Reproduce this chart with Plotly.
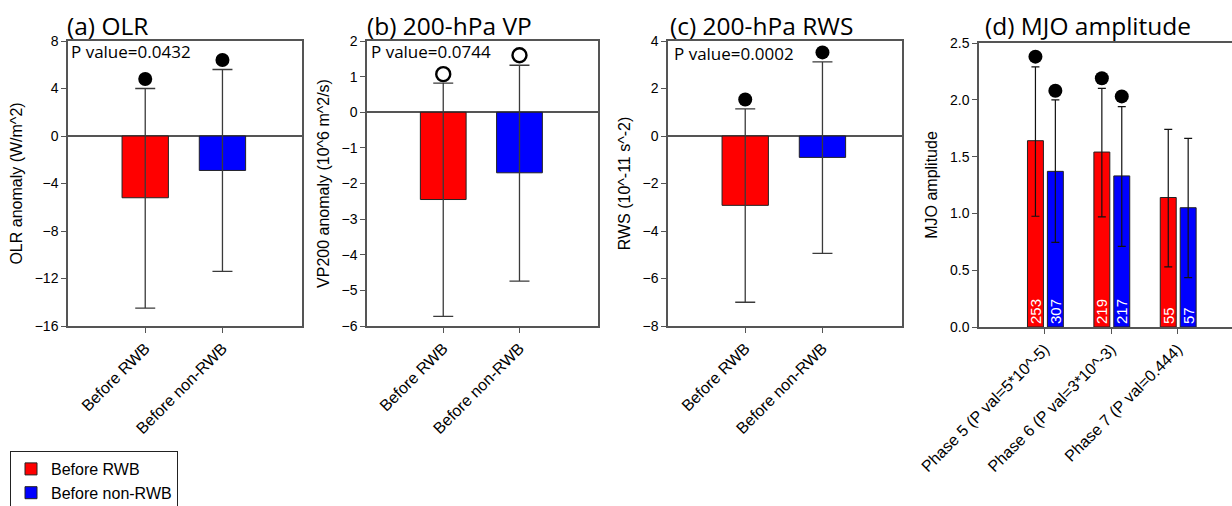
import plotly.graph_objects as go

W, H = 1232, 506

# ---------------- data ----------------
groups = ["Before RWB", "Before non-RWB"]
group_colors = ["#ff0000", "#0000ff"]

olr_mean = [-5.2, -2.9]
olr_upper = [4.0, 5.6]
olr_lower = [-14.5, -11.4]
olr_sig = [4.8, 6.4]

vp_mean = [-2.45, -1.70]
vp_upper = [0.82, 1.32]
vp_lower = [-5.73, -4.74]
vp_sig = [1.07, 1.60]

rws_mean = [-2.92, -0.90]
rws_upper = [1.14, 3.12]
rws_lower = [-7.00, -4.94]
rws_sig = [1.54, 3.52]

phases = ["Phase 5 (P val=5*10^-5)", "Phase 6 (P val=3*10^-3)", "Phase 7 (P val=0.444)"]
mjo_rwb_mean = [1.64, 1.54, 1.14]
mjo_rwb_upper = [2.29, 2.10, 1.74]
mjo_rwb_lower = [0.975, 0.97, 0.53]
mjo_rwb_count = [253, 219, 55]
mjo_rwb_sig = [2.38, 2.19, None]

mjo_non_mean = [1.37, 1.33, 1.05]
mjo_non_upper = [2.00, 1.94, 1.66]
mjo_non_lower = [0.745, 0.71, 0.435]
mjo_non_count = [307, 217, 57]
mjo_non_sig = [2.08, 2.03, None]

p_values = ["P value=0.0432", "P value=0.0744", "P value=0.0002"]
titles = ["(a) OLR", "(b) 200-hPa VP", "(c) 200-hPa RWS", "(d) MJO amplitude"]
ytitles = ["OLR anomaly (W/m^2)", "VP200 anomaly (10^6 m^2/s)", "RWS (10^-11 s^-2)", "MJO amplitude"]

# ---------------- style ----------------
AX = "#555555"
SANS = "Liberation Sans, Arial"
TICKFONT = dict(family=SANS, size=14, color="#000")
TITLEFONT = dict(family="Open Sans", size=24.5, color="#000")

def px_x(x):
    return x / W

def px_y(y):
    return 1 - y / H

fig = go.Figure()

panels = [
    (olr_mean, olr_upper, olr_lower, olr_sig, "filled"),
    (vp_mean, vp_upper, vp_lower, vp_sig, "open"),
    (rws_mean, rws_upper, rws_lower, rws_sig, "filled"),
]
x_domains = [(68, 302), (367, 598), (668, 902)]
y_ranges = [(-16, 8), (-6, 2), (-8, 4)]
y_dticks = [4, 1, 2]

for i, (mean, up, lo, sig, mstyle) in enumerate(panels):
    ax = "" if i == 0 else str(i + 1)
    fig.add_trace(go.Bar(
        x=groups, y=mean, width=0.6,
        marker=dict(color=group_colors, line=dict(color="#222", width=1)),
        error_y=dict(type="data", symmetric=False,
                     array=[u - m for u, m in zip(up, mean)],
                     arrayminus=[m - l for m, l in zip(mean, lo)],
                     color="#3a3a3a", thickness=1.3, width=10),
        showlegend=False, xaxis="x" + ax, yaxis="y" + ax,
    ))
    if mstyle == "filled":
        mk = dict(symbol="circle", size=14, color="#000")
    else:
        mk = dict(symbol="circle-open", size=14, color="#000", line=dict(width=2.4, color="#000"))
    fig.add_trace(go.Scatter(
        x=groups, y=sig, mode="markers", marker=mk,
        showlegend=False, xaxis="x" + ax, yaxis="y" + ax,
    ))

# panel d
bw = 0.24
off_r, off_b = -0.26, 0.04
xs = list(range(len(phases)))
for name, col, mean, up, lo, cnt, off in [
    ("Before RWB", "#ff0000", mjo_rwb_mean, mjo_rwb_upper, mjo_rwb_lower, mjo_rwb_count, off_r),
    ("Before non-RWB", "#0000ff", mjo_non_mean, mjo_non_upper, mjo_non_lower, mjo_non_count, off_b),
]:
    fig.add_trace(go.Bar(
        name=name, x=xs, y=mean, width=bw, offset=off,
        marker=dict(color=col, line=dict(color="#222", width=1)),
        error_y=dict(type="data", symmetric=False,
                     array=[u - m for u, m in zip(up, mean)],
                     arrayminus=[m - l for m, l in zip(mean, lo)],
                     color="#111", thickness=1.2, width=4),
        text=[str(c) for c in cnt], textposition="inside", insidetextanchor="start",
        textangle=-90, textfont=dict(family=SANS, size=15, color="#fff"),
        xaxis="x4", yaxis="y4", showlegend=True,
    ))
for sig, off in [(mjo_rwb_sig, off_r), (mjo_non_sig, off_b)]:
    fig.add_trace(go.Scatter(
        x=[x + off + bw / 2 for x in xs], y=sig, mode="markers",
        marker=dict(symbol="circle", size=14, color="#000"),
        showlegend=False, xaxis="x4", yaxis="y4",
    ))

layout = dict(
    width=W, height=H, margin=dict(l=0, r=0, t=0, b=0, autoexpand=False),
    paper_bgcolor="white", plot_bgcolor="white",
    barmode="overlay",
    uniformtext=dict(minsize=15, mode="show"),
    legend=dict(x=px_x(10), y=px_y(451), xanchor="left", yanchor="top",
                bordercolor="#222", borderwidth=1, bgcolor="white",
                font=dict(family=SANS, size=16, color="#000"),
                tracegroupgap=0),
)

common_x = dict(showline=True, linecolor=AX, linewidth=1.5, mirror=True,
                ticks="outside", ticklen=5, tickcolor=AX, tickangle=-45,
                tickfont=dict(family=SANS, size=16, color="#000"),
                showgrid=False, zeroline=False)
common_y = dict(showline=True, linecolor=AX, linewidth=1.5, mirror=True,
                ticks="outside", ticklen=5, tickcolor=AX, tickfont=TICKFONT,
                showgrid=False, zeroline=True, zerolinecolor=AX, zerolinewidth=1.5,
                title_font=dict(family=SANS, size=16, color="#000"),
                title_standoff=8)

for i in range(3):
    ax = "" if i == 0 else str(i + 1)
    xd = x_domains[i]
    layout["xaxis" + ax] = dict(common_x, domain=[px_x(xd[0]), px_x(xd[1])],
                                 type="category", range=[-1.0, 2.03],
                                 anchor="y" + ax)
    layout["yaxis" + ax] = dict(common_y, domain=[px_y(326), px_y(41)],
                                 range=list(y_ranges[i]), dtick=y_dticks[i],
                                 tick0=0, title=dict(text=ytitles[i]),
                                 anchor="x" + ax)

layout["xaxis4"] = dict(common_x, domain=[px_x(979), 1.0], range=[-0.99, 2.82],
                        tickvals=xs, ticktext=phases, anchor="y4")
layout["yaxis4"] = dict(common_y, domain=[px_y(327), px_y(43)], range=[0, 2.5],
                        dtick=0.5, tickformat=".1f", zeroline=False, mirror=False,
                        title=dict(text=ytitles[3]), anchor="x4")

ann = []
title_x = [65, 365, 668, 983]
for t, x in zip(titles, title_x):
    ann.append(dict(text=t, x=px_x(x), y=px_y(25), xref="paper", yref="paper",
                    xanchor="left", yanchor="middle", showarrow=False, font=TITLEFONT))
pv_x = [69, 369, 672]
pv_y = [52, 52, 53]
for t, x, y in zip(p_values, pv_x, pv_y):
    ann.append(dict(text=t, x=px_x(x), y=px_y(y), xref="paper", yref="paper",
                    xanchor="left", yanchor="middle", showarrow=False,
                    font=dict(family="Open Sans", size=17, color="#000")))
layout["annotations"] = ann

fig.update_layout(**layout)
fig.write_html("out.html", config={"displayModeBar": False},
               post_script="document.body.style.margin='0';")
